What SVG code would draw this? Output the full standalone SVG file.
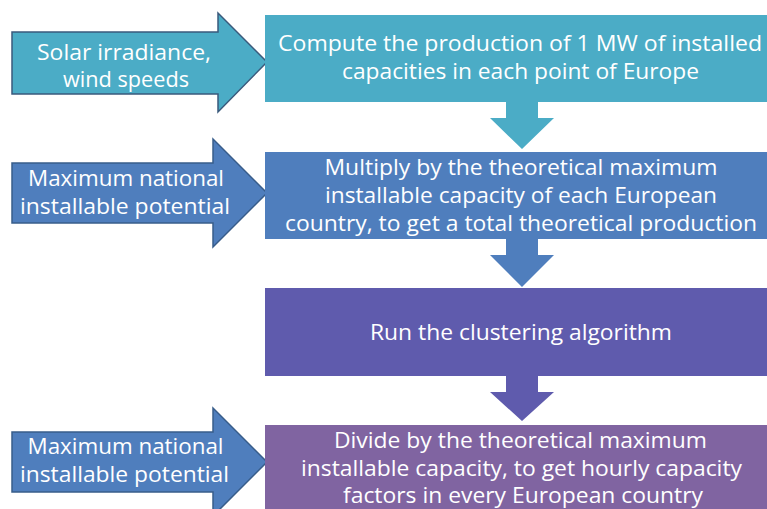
<svg xmlns="http://www.w3.org/2000/svg" width="767" height="509" viewBox="0 0 767 509">
<style>
text{font-family:"Open Sans","Liberation Sans",Arial,sans-serif;font-size:21px;fill:#ffffff;text-anchor:middle}
.c1{fill:#4BACC6}
.c2{fill:#4F7EBD}
.c3{fill:#5F5BAD}
.c4{fill:#8064A1}
.in1{fill:#4BACC6;stroke:#3A5A7C;stroke-width:1.5}
.in2{fill:#4F7EBD;stroke:#385D8A;stroke-width:1.5}
</style>
<rect width="767" height="509" fill="#ffffff"/>
<g id="connectors">
  <polygon class="c1" points="506,102 538,102 538,118 554,118 522,149 490,118 506,118"/>
  <polygon class="c2" points="506,239 538,239 538,255 554,255 522,287 490,255 506,255"/>
  <polygon class="c3" points="506,376 538,376 538,392 554,392 522,421 490,392 506,392"/>
</g>
<g id="input1">
  <polygon class="in1" points="12,32 218,32 218,13 267,62 218,112 218,94 12,94"/>
  <text x="124" y="60" textLength="174" lengthAdjust="spacingAndGlyphs">Solar irradiance,</text>
  <text x="126" y="87" textLength="126" lengthAdjust="spacingAndGlyphs">wind speeds</text>
</g>
<g id="input2">
  <polygon class="in2" points="12,163 213,163 213,139 267,193 213,247 213,223 12,223"/>
  <text x="126" y="186" textLength="196" lengthAdjust="spacingAndGlyphs">Maximum national</text>
  <text x="125" y="214" textLength="210" lengthAdjust="spacingAndGlyphs">installable potential</text>
</g>
<g id="input3">
  <polygon class="in2" points="12,432 213,432 213,408 267,462 213,516 213,492 12,492"/>
  <text x="125.5" y="454" textLength="196" lengthAdjust="spacingAndGlyphs">Maximum national</text>
  <text x="124.5" y="482" textLength="209" lengthAdjust="spacingAndGlyphs">installable potential</text>
</g>
<g id="step1">
  <rect class="c1" x="265" y="15" width="510" height="87"/>
  <text x="520" y="51" textLength="484" lengthAdjust="spacingAndGlyphs">Compute the production of 1 MW of installed</text>
  <text x="520.5" y="79" textLength="357" lengthAdjust="spacingAndGlyphs">capacities in each point of Europe</text>
</g>
<g id="step2">
  <rect class="c2" x="265" y="152" width="510" height="87"/>
  <text x="521" y="175" textLength="393" lengthAdjust="spacingAndGlyphs">Multiply by the theoretical maximum</text>
  <text x="521" y="203" textLength="392" lengthAdjust="spacingAndGlyphs">installable capacity of each European</text>
  <text x="521" y="231" textLength="472" lengthAdjust="spacingAndGlyphs">country, to get a total theoretical production</text>
</g>
<g id="step3">
  <rect class="c3" x="265" y="288" width="510" height="88"/>
  <text x="521" y="340" textLength="302" lengthAdjust="spacingAndGlyphs">Run the clustering algorithm</text>
</g>
<g id="step4">
  <rect class="c4" x="265" y="425" width="510" height="90"/>
  <text x="520.5" y="448" textLength="373" lengthAdjust="spacingAndGlyphs">Divide by the theoretical maximum</text>
  <text x="521.5" y="476" textLength="441" lengthAdjust="spacingAndGlyphs">installable capacity, to get hourly capacity</text>
  <text x="523" y="503" textLength="360" lengthAdjust="spacingAndGlyphs">factors in every European country</text>
</g>
</svg>
